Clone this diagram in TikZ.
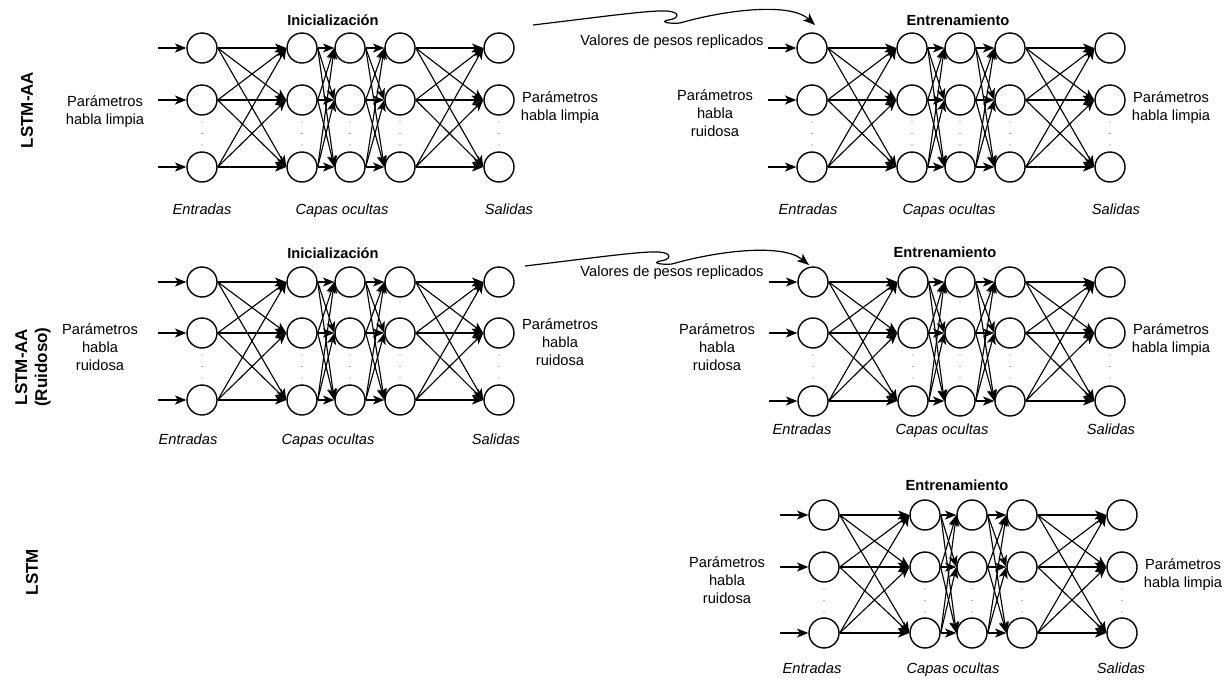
\documentclass[tikz,border=0pt]{standalone}
\usepackage{fontspec}
\setmainfont{Liberation Sans}
\usetikzlibrary{arrows.meta,calc}
\tikzset{
 neuron/.style={circle,draw,line width=1.05pt,minimum size=22.5pt,inner sep=0pt},
 conn/.style={line width=0.85pt,-{Stealth[length=8.5pt,width=6.8pt,inset=2.2pt]}},
 txt/.style={font=\fontsize{11}{13.5}\selectfont,align=center,inner sep=0pt},
 ital/.style={txt,font=\fontsize{11}{13.5}\selectfont\itshape,text height=8pt,text depth=2.4pt,yshift=-1.5pt},
 ttl/.style={txt,font=\fontsize{11}{13.5}\selectfont\bfseries},
 side/.style={rotate=90,font=\fontsize{12.75}{15}\selectfont\bfseries,align=center,inner sep=0pt},
 wavy/.style={line width=0.9pt,-{Stealth[length=9pt,width=7pt,inset=2.2pt]}}
}
\newcommand\mynet[9]{%
 \foreach \c/\x in {1/#2,2/#3,3/#4,4/#5,5/#6}{%
   \node[neuron] (#1-\c-1) at (\x,#7) {};
   \node[neuron] (#1-\c-2) at (\x,#8) {};
   \node[neuron] (#1-\c-3) at (\x,#9) {};
   \foreach \d in {22,33.5,45} \fill[black!60] (\x,#8+\d) circle (0.5pt);
 }
 \foreach \c [count=\n from 2] in {1,2,3,4}
   \foreach \a in {1,2,3}
     \foreach \b in {1,2,3}
       \draw[conn] (#1-\c-\a.east) -- (#1-\n-\b.west);
 \foreach \r in {1,2,3}{%
   \coordinate (#1-in-\r) at ($(#1-1-\r.west)+(-28,0)$);
   \draw[conn] (#1-in-\r) -- (#1-1-\r.west);
 }%
}
\newcommand\mywave[2]{%
 \draw[wavy] (#1) .. controls ($(#1)+(67,-8)$) and ($(#1)+(117,-15)$) .. ($(#1)+(134,-14)$)
   .. controls ($(#1)+(148,-13)$) and ($(#1)+(146,-6)$) .. ($(#1)+(135,-5)$)
   .. controls ($(#1)+(126,-3)$) and ($(#1)+(137,-1)$) .. ($(#1)+(147,-2)$)
   .. controls ($(#1)+(192,-15)$) and ($(#1)+(257,-23)$) .. (#2);%
}
\begin{document}
\begin{tikzpicture}[x=0.75pt,y=-0.75pt]
\useasboundingbox (0,0) rectangle (1227,679);

% row labels
\node[side] (lA) at (27,110) {LSTM-AA};
\node[side] (lB) at (33,367) {LSTM-AA\\(Ruidoso)};
\node[side] (lC) at (32,572) {LSTM};

% networks
\mynet{A}{202}{302}{350}{400}{499}{48}{100}{167}
\mynet{B}{812}{912}{960}{1010}{1110}{48}{100}{167}
\mynet{C}{202}{302}{350}{400}{499}{282}{333}{400}
\mynet{D}{813}{913}{960}{1010}{1110}{282}{333}{401}
\mynet{E}{824}{925}{972}{1022}{1122}{515}{567}{633}

% titles
\node[ttl] (tA) at (333,20) {Inicialización};
\node[ttl] (tB) at (958,20) {Entrenamiento};
\node[ttl] (tC) at (333,253) {Inicialización};
\node[ttl] (tD) at (945,252) {Entrenamiento};
\node[ttl] (tE) at (957,485) {Entrenamiento};

% bottom labels
\node[ital] (eA) at (202,209) {Entradas};
\node[ital] (cA) at (342,209) {Capas ocultas};
\node[ital] (sA) at (509,209) {Salidas};
\node[ital] (eB) at (808,209) {Entradas};
\node[ital] (cB) at (949,209) {Capas ocultas};
\node[ital] (sB) at (1116,209) {Salidas};
\node[ital] (eC) at (188,439) {Entradas};
\node[ital] (cC) at (328,439) {Capas ocultas};
\node[ital] (sC) at (496,439) {Salidas};
\node[ital] (eD) at (802,429) {Entradas};
\node[ital] (cD) at (942,429) {Capas ocultas};
\node[ital] (sD) at (1111,429) {Salidas};
\node[ital] (eE) at (812,668) {Entradas};
\node[ital] (cE) at (953,668) {Capas ocultas};
\node[ital] (sE) at (1121,668) {Salidas};

% side parameter labels
\node[txt] (pA1) at (105,112) {Parámetros\\habla limpia};
\node[txt] (pA2) at (560,107.5) {Parámetros\\habla limpia};
\node[txt] (pB1) at (715,113) {Parámetros\\habla\\ruidosa};
\node[txt] (pB2) at (1171,107.5) {Parámetros\\habla limpia};
\node[txt] (pC1) at (100,347) {Parámetros\\habla\\ruidosa};
\node[txt] (pC2) at (560,342) {Parámetros\\habla\\ruidosa};
\node[txt] (pD1) at (717,347) {Parámetros\\habla\\ruidosa};
\node[txt] (pD2) at (1171,340) {Parámetros\\habla limpia};
\node[txt] (pE1) at (727,580) {Parámetros\\habla\\ruidosa};
\node[txt] (pE2) at (1183,575) {Parámetros\\habla limpia};

% replicated weights
\node[txt] (vA) at (672,42) {Valores de pesos replicados};
\node[txt] (vC) at (672,273) {Valores de pesos replicados};
\coordinate (wA1) at (533,25);
\coordinate (wA2) at (815,25);
\coordinate (wC1) at (525,266);
\coordinate (wC2) at (809,265);
\mywave{wA1}{wA2}
\mywave{wC1}{wC2}
\end{tikzpicture}
\end{document}
